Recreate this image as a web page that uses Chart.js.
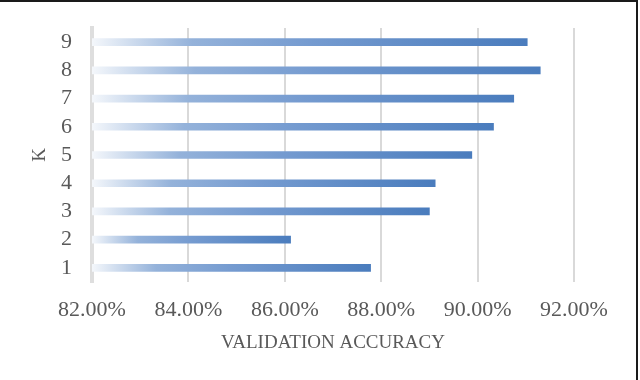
<!DOCTYPE html>
<html>
<head>
<meta charset="utf-8">
<script src="https://cdn.jsdelivr.net/npm/chart.js@4/dist/chart.umd.min.js"></script>
<style>
  html, body { margin: 0; padding: 0; background: #fff; }
  #wrap { width: 640px; height: 380px; position: relative; }
</style>
</head>
<body>
<div id="wrap"><canvas id="chart" width="640" height="380"></canvas></div>
<script>
// K values and the validation accuracy (%)
var kLabels = ['1', '2', '3', '4', '5', '6', '7', '8', '9'];
var accuracy = [87.78, 86.12, 89.00, 89.12, 89.88, 90.33, 90.75, 91.30, 91.03];
var xTicks = [82, 84, 86, 88, 90, 92];

var serif = "'Liberation Serif', 'DejaVu Serif', serif";
var grey = '#595959';

// each bar fades in from near white on the left, like the excel gradient fill
var barFill = function(ctx) {
    var chart = ctx.chart;
    if (!chart.chartArea || ctx.type !== 'data') {
        return '#4f81bd';
    }
    var x = chart.scales.x;
    var x0 = x.getPixelForValue(xTicks[0]);
    var x1 = x.getPixelForValue(ctx.raw);
    var g = chart.ctx.createLinearGradient(x0, 0, x1, 0);
    g.addColorStop(0, '#f4f7fb');
    g.addColorStop(0.23, '#94b2da');
    g.addColorStop(0.5, '#759bd0');
    g.addColorStop(1, '#4a7cbd');
    return g;
};

// thin black frame on the top and right side of the picture
var frame = {
    id: 'frame',
    afterDraw: function(chart) {
        var c = chart.ctx;
        c.save();
        c.strokeStyle = '#1a1a1a';
        c.lineWidth = 2;
        c.beginPath();
        c.moveTo(0, 1);
        c.lineTo(638, 1);
        c.moveTo(637, 0);
        c.lineTo(637, 380);
        c.stroke();
        c.restore();
    }
};

new Chart(document.getElementById('chart'), {
    type: 'bar',
    data: {
        labels: kLabels,
        datasets: [{
            label: 'Validation accuracy',
            data: accuracy,
            backgroundColor: barFill,
            borderWidth: 0,
            barThickness: 7
        }]
    },
    plugins: [frame],
    options: {
        indexAxis: 'y',
        responsive: false,
        animation: false,
        layout: {
            padding: { top: 28, right: 66, bottom: 26, left: 0 }
        },
        plugins: {
            legend: { display: false },
            tooltip: { enabled: false }
        },
        scales: {
            x: {
                min: xTicks[0],
                max: xTicks[xTicks.length - 1],
                afterBuildTicks: function(scale) {
                    scale.ticks = xTicks.map(function(v) { return { value: v }; });
                },
                afterFit: function(scale) {
                    scale.height = 72;
                    scale.paddingLeft = 0;
                    scale.paddingRight = 0;
                },
                grid: {
                    color: '#d9d9d9',
                    lineWidth: 2,
                    drawTicks: false
                },
                border: { display: false },
                ticks: {
                    padding: 15,
                    maxRotation: 0,
                    color: grey,
                    font: { family: serif, size: 22 },
                    callback: function(v) { return Number(v).toFixed(2) + '%'; }
                },
                title: {
                    display: true,
                    text: 'VALIDATION ACCURACY',
                    color: grey,
                    font: { family: serif, size: 19 },
                    padding: { top: 8, bottom: 0 }
                }
            },
            y: {
                reverse: true,
                afterFit: function(scale) {
                    scale.width = 92;
                    scale.paddingTop = 0;
                    scale.paddingBottom = 0;
                },
                grid: { display: false, drawTicks: false },
                border: { display: true, color: '#dedede', width: 4 },
                ticks: {
                    autoSkip: false,
                    padding: 20,
                    color: grey,
                    font: { family: serif, size: 22 }
                },
                title: {
                    display: true,
                    text: 'K',
                    color: grey,
                    font: { family: serif, size: 19 },
                    padding: { top: 29, bottom: 0 }
                }
            }
        }
    }
});
</script>
</body>
</html>
